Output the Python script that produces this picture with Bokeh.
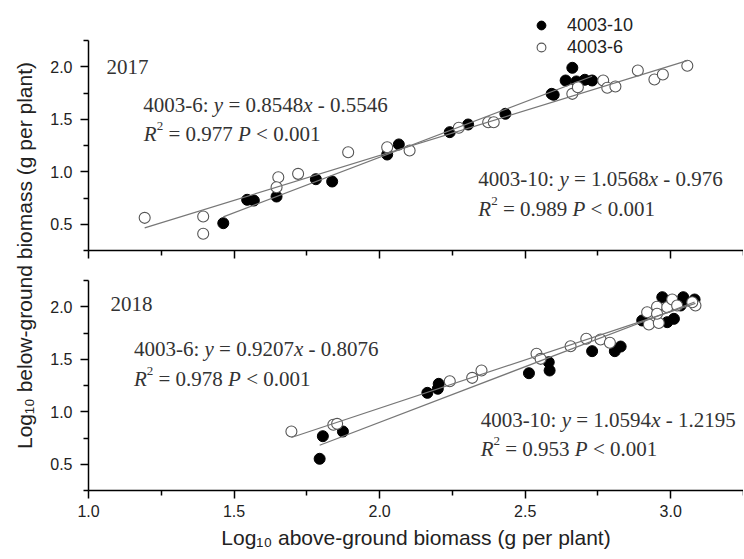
import math
from bokeh.plotting import figure
from bokeh.layouts import row, column
from bokeh.models import (Label, Legend, LegendItem, FixedTicker, Range1d,
                          CustomJSTickFormatter, PrintfTickFormatter)
from bokeh.embed import file_html
from bokeh.resources import INLINE

# ---------------- data ----------------
# 2017, cultivar 4003-10 (filled)
top_x10 = [1.463, 1.545, 1.568, 1.646, 1.781, 1.837, 2.026, 2.066, 2.241, 2.304,
           2.432, 2.591, 2.598, 2.639, 2.662, 2.676, 2.705, 2.730]
top_y10 = [0.510, 0.733, 0.726, 0.764, 0.929, 0.907, 1.164, 1.260, 1.377, 1.450,
           1.552, 1.742, 1.733, 1.869, 1.990, 1.860, 1.876, 1.869]
# 2017, cultivar 4003-6 (open)
top_x6 = [1.193, 1.394, 1.394, 1.652, 1.646, 1.720, 1.892, 2.026, 2.103, 2.272,
          2.373, 2.392, 2.662, 2.681, 2.768, 2.782, 2.810, 2.887, 2.944, 2.973, 3.057]
top_y6 = [0.561, 0.574, 0.409, 0.948, 0.853, 0.980, 1.186, 1.234, 1.202, 1.419,
          1.472, 1.472, 1.742, 1.805, 1.869, 1.800, 1.812, 1.964, 1.879, 1.926, 2.009]
# 2018, cultivar 4003-10 (filled)
bot_x10 = [1.794, 1.805, 1.874, 2.164, 2.200, 2.203, 2.513, 2.581, 2.584, 2.730,
           2.808, 2.828, 2.902, 2.988, 3.011, 2.971, 3.043, 3.082, 3.039, 3.034]
bot_y10 = [0.552, 0.767, 0.812, 1.180, 1.219, 1.266, 1.367, 1.472, 1.393, 1.577,
           1.577, 1.621, 1.869, 1.853, 1.885, 2.091, 2.091, 2.069, 2.043, 2.012]
# 2018, cultivar 4003-6 (open)
bot_x6 = [1.697, 1.841, 1.854, 2.241, 2.318, 2.350, 2.539, 2.553, 2.656, 2.710,
          2.759, 2.791, 2.919, 2.925, 2.959, 2.953, 2.988, 3.005, 3.022, 3.085,
          3.074, 2.953]
bot_y6 = [0.812, 0.876, 0.885, 1.291, 1.323, 1.393, 1.552, 1.504, 1.624, 1.695,
          1.688, 1.657, 1.948, 1.831, 1.845, 2.000, 1.996, 2.069, 2.012, 2.012,
          2.043, 1.933]

# regression equations printed on the chart: (slope, intercept)
fit_2017_6 = (0.8548, -0.5546)
fit_2017_10 = (1.0568, -0.976)
fit_2018_6 = (0.9207, -0.8076)
fit_2018_10 = (1.0594, -1.2195)

series_names = ["4003-10", "4003-6"]
x_major = [1.0, 1.5, 2.0, 2.5, 3.0]
x_minor = [1.25, 1.75, 2.25, 2.75, 3.25]
y_major = [0.5, 1.0, 1.5, 2.0]
y_minor = [0.25, 0.75, 1.25, 1.75, 2.25]

# ---------------- styling ----------------
SANS = "Liberation Sans"
SERIF = "Liberation Serif"
TXT = "#333333"
LINE = "#777777"
FS = 21  # serif annotation size

# Times / Liberation Serif advance widths (em)
W = {c: 0.5 for c in "0123456789"}
W.update({".": 0.25, " ": 0.25, "-": 0.333, ":": 0.278, "=": 0.564, "<": 0.564,
          "x": 0.444, "y": 0.444, "R": 0.611, "P": 0.611})


def width(s, size):
    return sum(W.get(c, 0.5) for c in s) * size


def rich(fig, x, y, parts):
    off = 0.0
    for text, style, size, dy in parts:
        stripped = text.strip()
        lead = len(text) - len(text.lstrip())
        trail = len(text) - len(text.rstrip())
        off += lead * W[" "] * FS
        fig.add_layout(Label(x=x, y=y, x_offset=off, y_offset=dy, text=stripped,
                             text_font=SERIF, text_font_style=style,
                             text_font_size=f"{size}px", text_color=TXT,
                             text_align="left", text_baseline="alphabetic"))
        off += width(stripped, size) + trail * W[" "] * FS


def equation(fig, x, y, name, fit):
    a, b = fit
    sign = "-" if b < 0 else "+"
    rich(fig, x, y, [(f"{name}:", "normal", FS, 0),
                     (" y", "italic", FS, 0),
                     (f" = {a}", "normal", FS, 0),
                     ("x", "italic", FS, 0),
                     (f" {sign} {abs(b)}", "normal", FS, 0)])


def r2(fig, x, y, val):
    rich(fig, x, y, [("R", "italic", FS, 0),
                     ("2", "normal", 13, 8),
                     (f" = {val} ", "normal", FS, 0),
                     ("P", "italic", FS, 0),
                     (" < 0.001", "normal", FS, 0)])


def make_panel(height, y_top, border_top, border_bottom, show_xlabels):
    p = figure(width=705, height=height, x_range=Range1d(1.0, 3.25),
               y_range=Range1d(0.25, y_top), toolbar_location=None,
               output_backend="svg", min_border_left=50, min_border_right=0,
               min_border_top=border_top, min_border_bottom=border_bottom)
    p.grid.visible = False
    p.outline_line_color = None
    p.background_fill_color = "white"
    for ax in (p.xaxis[0], p.yaxis[0]):
        ax.axis_line_color = "black"
        ax.axis_line_width = 1.5
        ax.major_tick_line_color = "black"
        ax.minor_tick_line_color = "black"
        ax.major_tick_line_width = 1.5
        ax.minor_tick_line_width = 1.5
        ax.major_tick_in = 0
        ax.major_tick_out = 8
        ax.minor_tick_in = 0
        ax.minor_tick_out = 5
        ax.major_label_text_font = SANS
        ax.major_label_text_font_size = "16px"
        ax.major_label_text_color = "#222222"
    p.xaxis.ticker = FixedTicker(ticks=x_major, minor_ticks=x_minor)
    p.yaxis.ticker = FixedTicker(ticks=y_major, minor_ticks=y_minor)
    p.yaxis.bounds = (0.25, 2.25)
    p.yaxis.formatter = PrintfTickFormatter(format="%.1f")
    p.yaxis.major_label_standoff = 8
    if not show_xlabels:
        p.xaxis.formatter = CustomJSTickFormatter(code="return ''")
        p.xaxis.major_label_standoff = 0
        p.xaxis.major_label_text_font_size = "1px"
    else:
        p.xaxis.formatter = PrintfTickFormatter(format="%.1f")
        p.xaxis.major_label_standoff = 6
    return p


def draw(p, x10, y10, x6, y6, f6, f10):
    r10 = p.scatter(x10, y10, size=11, marker="circle", fill_color="black",
                    line_color="black", line_width=1)
    r6 = p.scatter(x6, y6, size=11, marker="circle", fill_color="white",
                   line_color="#555555", line_width=1.1)
    for xs, f in ((x6, f6), (x10, f10)):
        x0, x1 = min(xs), max(xs)
        p.line([x0, x1], [f[0] * x0 + f[1], f[0] * x1 + f[1]],
               line_color=LINE, line_width=1.2)
    return r10, r6


# ---------------- top panel (2017) ----------------
# frame reaches the top of the canvas so the legend above the axis is not clipped
p1 = make_panel(270, 0.25 + 250 / 105, 0, 20, False)
r10a, r6a = draw(p1, top_x10, top_y10, top_x6, top_y6, fit_2017_6, fit_2017_10)
rich(p1, 1.062, 2.0, [("2017", "normal", FS, 0)])
equation(p1, 1.188, 1.640, "4003-6", fit_2017_6)
r2(p1, 1.190, 1.361, 0.977)
equation(p1, 2.339, 0.933, "4003-10", fit_2017_10)
r2(p1, 2.339, 0.647, 0.989)

legend = Legend(items=[LegendItem(label=series_names[0], renderers=[r10a]),
                       LegendItem(label=series_names[1], renderers=[r6a])],
                location=(442, 192), glyph_width=22, glyph_height=22,
                label_height=22, spacing=0, padding=0, margin=0,
                label_standoff=15, label_text_font=SANS,
                label_text_font_size="18px", label_text_color="#222222",
                border_line_color=None, background_fill_alpha=0)
p1.add_layout(legend)

# ---------------- bottom panel (2018) ----------------
p2 = make_panel(286, 2.25, 10, 66, True)
draw(p2, bot_x10, bot_y10, bot_x6, bot_y6, fit_2018_6, fit_2018_10)
rich(p2, 1.076, 2.028, [("2018", "normal", FS, 0)])
equation(p2, 1.156, 1.600, "4003-6", fit_2018_6)
r2(p2, 1.156, 1.314, 0.978)
equation(p2, 2.347, 0.917, "4003-10", fit_2018_10)
r2(p2, 2.347, 0.647, 0.953)

p2.xaxis.axis_label = "Log\u2081\u2080 above-ground biomass (g per plant)"
p2.xaxis.axis_label_text_font = SANS
p2.xaxis.axis_label_text_font_size = "21px"
p2.xaxis.axis_label_text_font_style = "normal"
p2.xaxis.axis_label_text_color = "#222222"
p2.xaxis.axis_label_standoff = 6

# ---------------- shared y label ----------------
ylab = figure(width=38, height=556, x_range=Range1d(0, 38), y_range=Range1d(0, 556),
              toolbar_location=None, output_backend="svg", min_border=0,
              x_axis_location=None, y_axis_location=None)
ylab.grid.visible = False
ylab.outline_line_color = None
ylab.add_layout(Label(x=24, y=301, angle=math.pi / 2,
                      text="Log\u2081\u2080 below-ground biomass (g per plant)",
                      text_font=SANS, text_font_size="21px", text_color="#222222",
                      text_align="center", text_baseline="middle"))

layout = row(ylab, column(p1, p2))
open("out.html", "w").write(file_html(layout, INLINE))
